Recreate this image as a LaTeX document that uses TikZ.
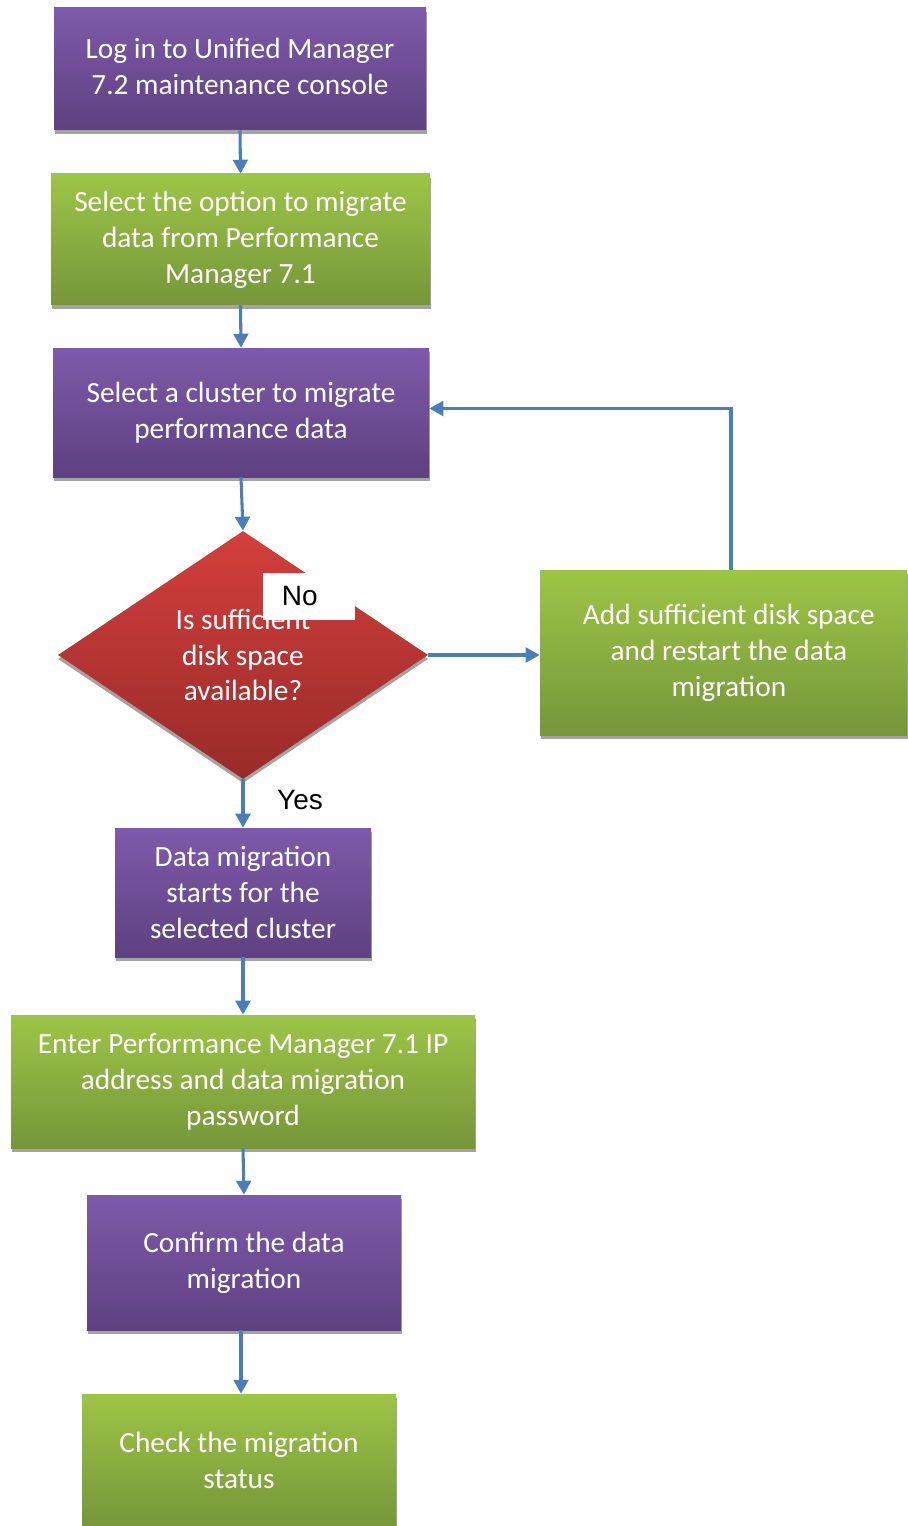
\documentclass[tikz,border=0pt]{standalone}
\usepackage{fontspec}
\setmainfont{Carlito}
\newfontfamily\arialfont{Liberation Sans}
\usetikzlibrary{shapes.geometric,arrows.meta,shadows}
\definecolor{purpTop}{HTML}{7E5AAA}
\definecolor{purpBot}{HTML}{5D4180}
\definecolor{grnTop}{HTML}{9DC546}
\definecolor{grnBot}{HTML}{76963A}
\definecolor{redTop}{HTML}{D33F3C}
\definecolor{redBot}{HTML}{982B28}
\definecolor{arrowBlue}{HTML}{4A7EBB}
\definecolor{shadowGray}{HTML}{A3A3A3}
\tikzset{
  boxbase/.style={rectangle, inner sep=0pt, align=center, text=white,
    font=\fontsize{22pt}{27pt}\selectfont,
    drop shadow={shadow xshift=0.6pt, shadow yshift=-3pt, fill=shadowGray, opacity=1}},
  purplebox/.style={boxbase, top color=purpTop, bottom color=purpBot},
  greenbox/.style={boxbase, top color=grnTop, bottom color=grnBot},
  decision/.style={diamond, inner sep=0pt, aspect=1.49, align=center, text=white,
    font=\fontsize{22pt}{26.5pt}\selectfont, top color=redTop, bottom color=redBot,
    drop shadow={shadow xshift=0pt, shadow yshift=-3pt, fill=shadowGray, opacity=1}},
  flow/.style={draw=arrowBlue, line width=2.3pt, -{Triangle[width=11pt,length=10.5pt]}},
  lbl/.style={font=\arialfont\fontsize{21pt}{23pt}\selectfont, text=black}
}
\begin{document}
\begin{tikzpicture}[x=0.75pt,y=-0.75pt]
\useasboundingbox (0,0) rectangle (907,1526);
\node[purplebox, minimum width=279pt, minimum height=91.5pt] (login) at (240,69)
  {\raisebox{3.75pt}{\begin{tabular}{@{}c@{}}Log in to Unified Manager\\7.2 maintenance console\end{tabular}}};
\node[greenbox, minimum width=284.25pt, minimum height=98.25pt] (opt) at (240.5,239.5)
  {Select the option to migrate\\data from Performance\\Manager 7.1};
\node[purplebox, minimum width=282pt, minimum height=96.75pt] (sel) at (241,412.5)
  {Select a cluster to migrate\\performance data};
\node[decision, minimum width=277.5pt, minimum height=186pt] (dec) at (243,655)
  {Is sufficient\\disk space\\available?};
\node[fill=white, anchor=west, inner xsep=14pt, inner ysep=0pt, text width=41pt,
  align=left, minimum height=35.25pt, lbl] (no) at (263,596.5) {No};
\node[greenbox, minimum width=275.25pt, minimum height=123.75pt] (add) at (723.5,652.5)
  {\hspace*{8pt}Add sufficient disk space\\\hspace*{8pt}and restart the data\\\hspace*{8pt}migration};
\node[purplebox, minimum width=192pt, minimum height=96.75pt] (start) at (243,892.5)
  {Data migration\\starts for the\\selected cluster};
\node[lbl] (yes) at (300,800) {Yes};
\node[greenbox, minimum width=348pt, minimum height=99.75pt] (enter) at (243,1081.5)
  {Enter Performance Manager 7.1 IP\\address and data migration\\password};
\node[purplebox, minimum width=235.5pt, minimum height=101.25pt] (confirm) at (244,1262.5)
  {Confirm the data\\migration};
\node[greenbox, minimum width=235.5pt, minimum height=99pt] (check) at (239,1460)
  {Check the migration\\status};
\draw[flow] (login.south) -- (opt.north);
\draw[flow] (opt.south) -- (sel.north);
\draw[flow] (sel.south) -- (dec.north);
\draw[flow] (dec.east) -- (dec.east -| add.west);
\draw[flow] ([xshift=5.6pt]add.north) |- ([yshift=3pt]sel.east);
\draw[flow] (dec.south) -- (start.north);
\draw[flow] (start.south) -- (enter.north);
\draw[flow] (enter.south) -- (confirm.north);
\draw[flow] ([xshift=-2.25pt]confirm.south) -- ([xshift=1.5pt]check.north);
\end{tikzpicture}
\end{document}
